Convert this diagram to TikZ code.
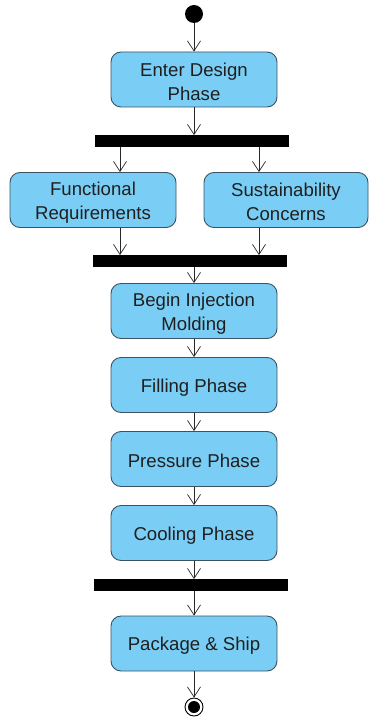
\documentclass[tikz,border=0pt]{standalone}
\usepackage{fontspec}
\setmainfont{Liberation Sans}
\usetikzlibrary{arrows.meta}
\definecolor{actfill}{RGB}{122,206,245}
\definecolor{actline}{RGB}{58,82,98}
\definecolor{flow}{RGB}{40,40,40}
% a zero-width prop that lowers the label slightly inside its box
\newcommand{\toplift}{\rule{0pt}{18pt}}
\tikzset{
  action/.style={draw=actline, line width=0.9pt, fill=actfill, rounded corners=10pt,
    minimum width=166pt, minimum height=55pt, align=center, inner sep=0pt,
    text=black!88, font=\fontsize{18.6}{24}\selectfont},
  syncbar/.style={fill=black, draw=none, minimum width=194pt, minimum height=11.5pt, inner sep=0pt},
  flowarrow/.style={draw=flow, line width=0.7pt, -{Straight Barb[length=10pt,width=13pt,line width=0.7pt]}},
}
\begin{document}
\begin{tikzpicture}[x=1pt,y=-1pt]
\useasboundingbox (0,0) rectangle (369,719);
% start and end markers
\node[circle, fill=black, minimum size=18pt, inner sep=0pt] (start) at (194,14) {};
\node[circle, draw=black, line width=0.9pt, fill=white, minimum size=18pt, inner sep=0pt] (finish) at (194,707) {};
\fill[black] (finish.center) circle (6pt);
% actions
\node[action] (design) at (194,79.5) {\toplift Enter Design\\Phase};
\node[action] (func) at (93,200) {\toplift Functional\\Requirements};
\node[action, minimum width=164pt] (sust) at (286,200) {\toplift Sustainability\\Concerns};
\node[action] (begin) at (194,311) {\toplift Begin Injection\\Molding};
\node[action] (fill) at (194,385) {\toplift Filling Phase};
\node[action] (press) at (194,459) {\toplift Pressure Phase};
\node[action] (cool) at (194,533) {\toplift Cooling Phase};
\node[action] (ship) at (194,643.5) {\toplift Package \& Ship};
% fork and join bars
\node[syncbar] (fork) at (191.5,141) {};
\node[syncbar] (join) at (190,261) {};
\node[syncbar] (sync) at (191,585) {};
% control flow
\draw[flowarrow] (start) -- (design);
\draw[flowarrow] (design) -- (design.south |- fork.north);
\draw[flowarrow] ([xshift=27pt]func.north |- fork.south) -- ([xshift=27pt]func.north);
\draw[flowarrow] ([xshift=-27pt]sust.north |- fork.south) -- ([xshift=-27pt]sust.north);
\draw[flowarrow] ([xshift=27pt]func.south) -- ([xshift=27pt]func.south |- join.north);
\draw[flowarrow] ([xshift=-27pt]sust.south) -- ([xshift=-27pt]sust.south |- join.north);
\draw[flowarrow] (begin.north |- join.south) -- (begin);
\draw[flowarrow] (begin) -- (fill);
\draw[flowarrow] (fill) -- (press);
\draw[flowarrow] (press) -- (cool);
\draw[flowarrow] (cool) -- (cool.south |- sync.north);
\draw[flowarrow] (ship.north |- sync.south) -- (ship);
\draw[flowarrow] (ship) -- (finish);
\end{tikzpicture}
\end{document}
